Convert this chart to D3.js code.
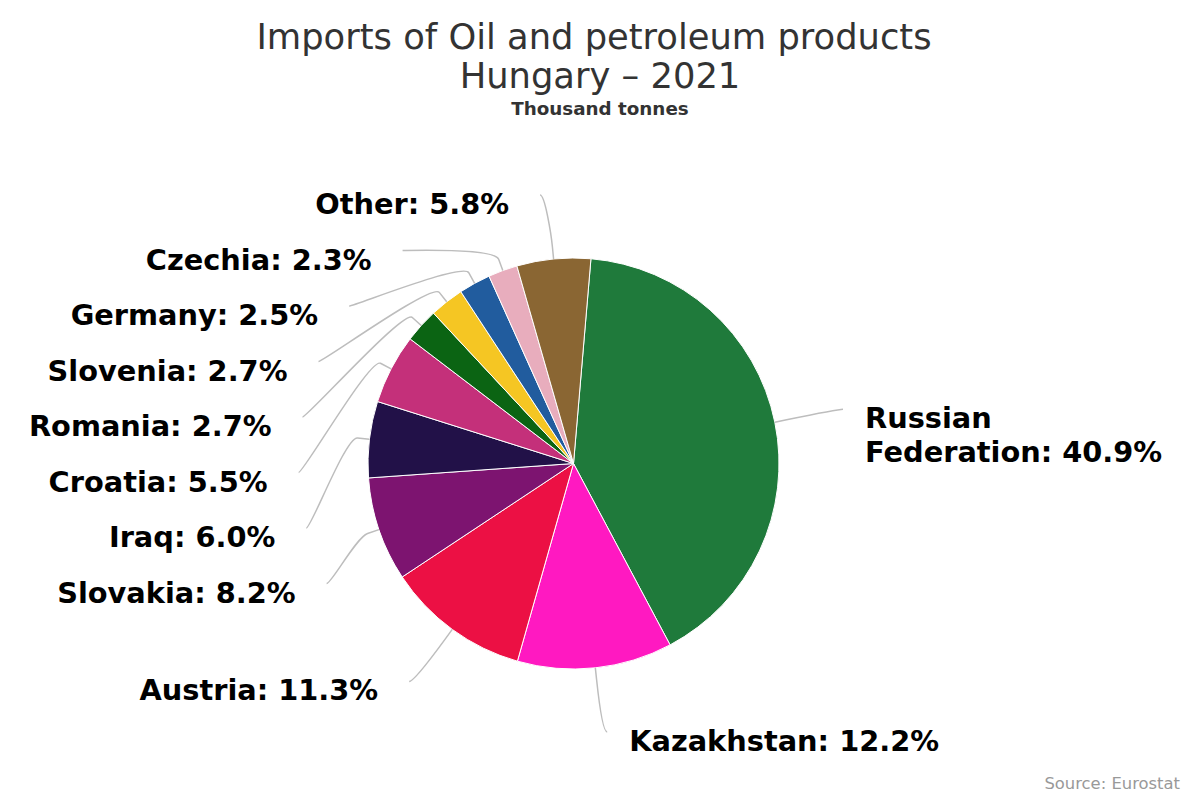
<!DOCTYPE html>
<html>
<head>
<meta charset="utf-8">
<script src="https://cdn.jsdelivr.net/npm/d3@7"></script>
<style>
  body { margin: 0; background: #fff; }
  text { font-family: "DejaVu Sans", Verdana, sans-serif; }
</style>
</head>
<body>
<svg id="chart" width="1200" height="800"></svg>
<script>
// Data (share of imports, %)
const countries = ["Russian Federation", "Kazakhstan", "Austria", "Slovakia", "Iraq", "Croatia",
                   "Romania", "Slovenia", "Germany", "Czechia", "Other"];
const shares = [40.9, 12.2, 11.3, 8.2, 6.0, 5.5, 2.7, 2.7, 2.5, 2.3, 5.8];
const colors = ["#1f7a3b", "#ff19c1", "#ec1044", "#7d1470", "#221148", "#c4307a",
                "#0b6413", "#f5c623", "#215c9e", "#e8adbd", "#8a6633"];

const titleLines = ["Imports of Oil and petroleum products", "Hungary \u2013 2021"];
const subtitle = "Thousand tonnes";
const credit = "Source: Eurostat";

const svg = d3.select("#chart");
const width = 1200, height = 800;
const cx = 573.5, cy = 463.5, radius = 205.5;
const labelRadius = 270, labelGap = 55.5, labelTop = 195;
const startAngle = 0.085;

// Titles
svg.append("text")
    .attr("x", 594).attr("y", 49)
    .attr("text-anchor", "middle")
    .attr("font-size", 35.3).attr("fill", "#333")
    .text(titleLines[0]);
svg.append("text")
    .attr("x", 600).attr("y", 88)
    .attr("text-anchor", "middle")
    .attr("font-size", 35.3).attr("fill", "#333")
    .text(titleLines[1]);
svg.append("text")
    .attr("x", 600).attr("y", 115)
    .attr("text-anchor", "middle")
    .attr("font-size", 18.3).attr("font-weight", "bold").attr("fill", "#333")
    .text(subtitle);

// Pie
const pie = d3.pie()
    .sort(null)
    .value(d => d.value)
    .startAngle(startAngle)
    .endAngle(startAngle + 2 * Math.PI);

const slices = pie(countries.map((c, i) => ({ name: c, value: shares[i], color: colors[i] })));
const arc = d3.arc().innerRadius(0).outerRadius(radius);

const pieG = svg.append("g").attr("transform", `translate(${cx},${cy})`);
pieG.selectAll("path.slice")
    .data(slices)
    .enter().append("path")
    .attr("class", "slice")
    .attr("d", arc)
    .attr("fill", d => d.data.color)
    .attr("stroke", "#fff")
    .attr("stroke-width", 1)
    .attr("stroke-linejoin", "round");

// Label placement, Highcharts style: natural y on an outer circle, then pushed apart
slices.forEach(d => {
    d.mid = (d.startAngle + d.endAngle) / 2;
    d.left = Math.sin(d.mid) < 0;
    d.ly = cy - labelRadius * Math.cos(d.mid);
});

[true, false].forEach(side => {
    let prev = labelTop - labelGap;
    slices.filter(d => d.left === side)
        .sort((a, b) => a.ly - b.ly)
        .forEach(d => {
            d.ly = Math.max(d.ly, prev + labelGap);
            prev = d.ly;
        });
});

slices.forEach(d => {
    const dy = d.ly - cy;
    const dx = Math.sqrt(Math.max(0, labelRadius * labelRadius - dy * dy)) + 5;
    d.lx = d.left ? cx - dx : cx + dx;
});

// Connectors
const connectors = svg.append("g");
slices.forEach(d => {
    const sx = Math.sin(d.mid), sy = -Math.cos(d.mid);
    const tx = cx + radius * sx, ty = cy + radius * sy;
    const bx = cx + (radius + 12) * sx, by = cy + (radius + 12) * sy;
    const p = d3.path();
    p.moveTo(d.lx, d.ly);
    p.bezierCurveTo(d.lx + (d.left ? 5 : -5), d.ly, 2 * bx - tx, 2 * by - ty, bx, by);
    p.lineTo(tx, ty);
    connectors.append("path")
        .attr("d", p.toString())
        .attr("fill", "none")
        .attr("stroke", "#bdbdbd")
        .attr("stroke-width", 1.5);
});

// Labels
const labels = svg.append("g");
slices.forEach(d => {
    const tx = d.left ? d.lx - 31 : d.lx + 22;
    const full = d.data.name + ": " + d.data.value.toFixed(1) + "%";
    const t = labels.append("text")
        .attr("x", tx).attr("y", d.ly + 19)
        .attr("text-anchor", d.left ? "end" : "start")
        .attr("font-size", 28.8).attr("font-weight", "bold").attr("fill", "#000")
        .text(full);

    const avail = d.left ? tx - 5 : width - 30 - tx;
    if (t.node().getComputedTextLength() > avail) {
        // wrap word by word
        const words = full.split(" ");
        t.text(null);
        let line = [];
        let tspan = t.append("tspan").attr("x", tx).attr("dy", 0);
        words.forEach(w => {
            line.push(w);
            tspan.text(line.join(" "));
            if (tspan.node().getComputedTextLength() > avail && line.length > 1) {
                line.pop();
                tspan.text(line.join(" "));
                line = [w];
                tspan = t.append("tspan").attr("x", tx).attr("dy", 34).text(w);
            }
        });
    }
});

// Credit
svg.append("text")
    .attr("x", 1180).attr("y", 789)
    .attr("text-anchor", "end")
    .attr("font-size", 16.4).attr("fill", "#999")
    .text(credit);
</script>
</body>
</html>
